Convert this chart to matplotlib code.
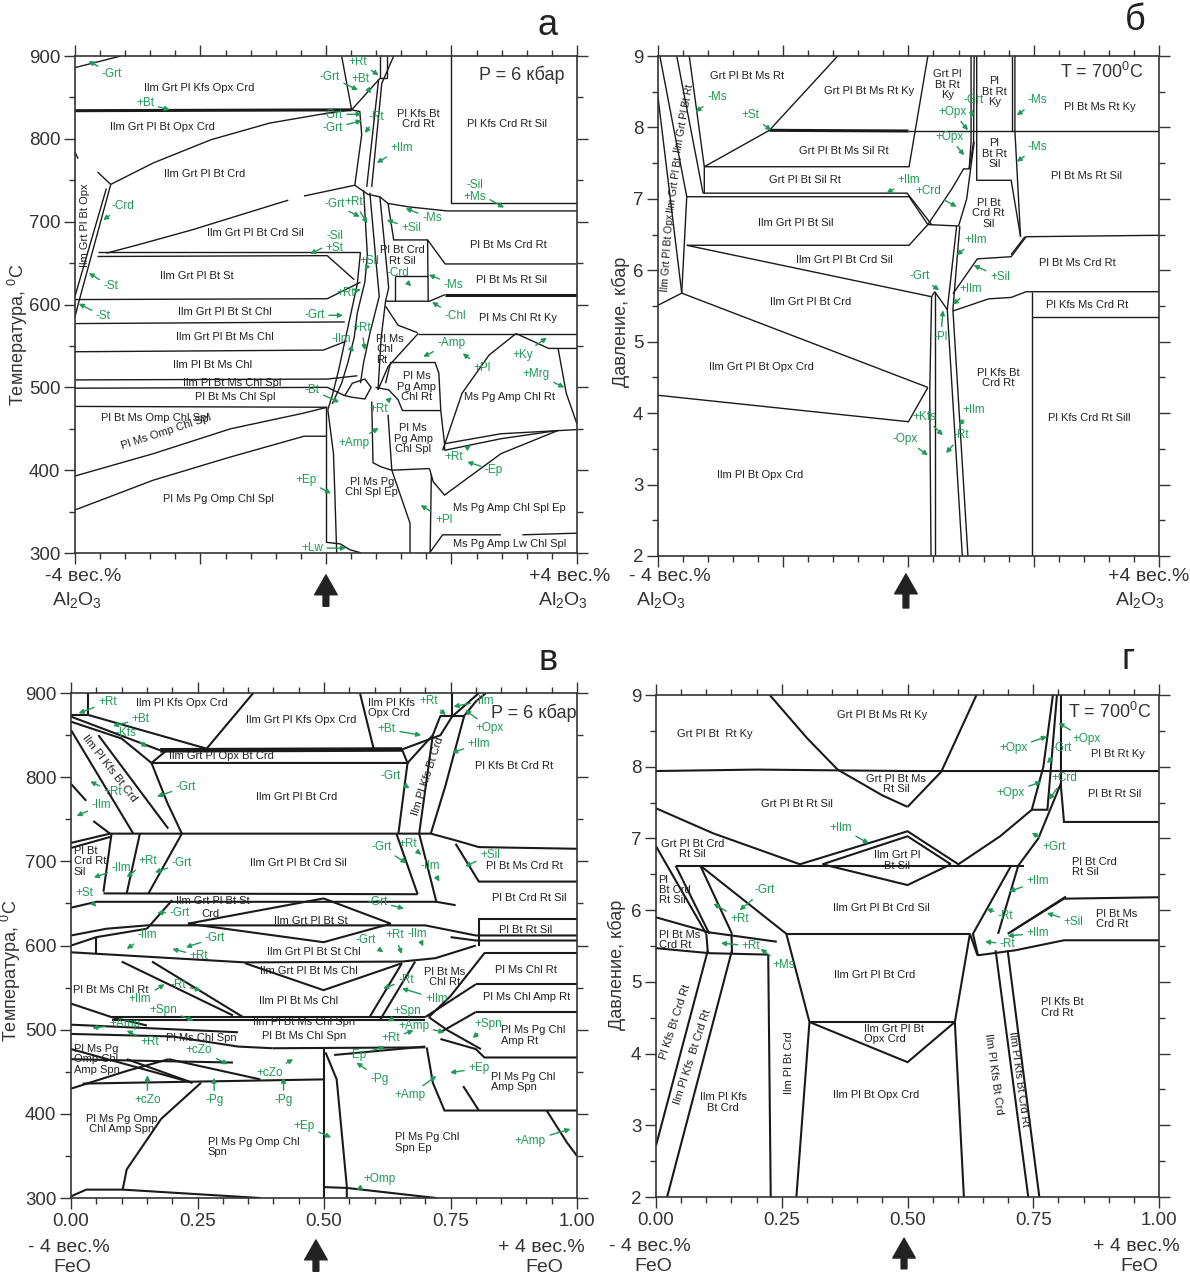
import matplotlib
matplotlib.use("Agg")
import matplotlib.pyplot as plt
from matplotlib.ticker import MultipleLocator, NullFormatter, FormatStrFormatter
import matplotlib.transforms as mtransforms

plt.rcParams['font.family'] = ['Liberation Sans', 'DejaVu Sans']
plt.rcParams['mathtext.fontset'] = 'custom'
plt.rcParams['mathtext.rm'] = 'Liberation Sans'
plt.rcParams['mathtext.it'] = 'Liberation Sans:italic'
plt.rcParams['mathtext.bf'] = 'Liberation Sans:bold'

GREEN = '#1f9a58'
INK = '#1a1a1a'

# ---------------------------------------------------------------- panel a (T-X Al2O3, P = 6 kbar)
A_LINES = [
    [(-4, 886), (-3.27, 900)],
    [(0.25, 900), (0.41, 835)],
    [(0.41, 835), (0.86, 873)],
    [(0.86, 900), (0.86, 873), (0.98, 873), (0.98, 900)],
    [(1.08, 900), (0.89, 867), (0.73, 742)],
    [(0.84, 872), (0.65, 742)],
    [(0.41, 835), (0.54, 833), (0.57, 805), (0.46, 744)],
    [(-3.43, 745), (-2.75, 771), (-1.83, 799), (-0.90, 819), (0.02, 831), (0.41, 835)],
    [(-3.64, 760), (-3.43, 745)],
    [(-4, 784), (-3.95, 776)],
    [(-3.43, 745), (-3.95, 600), (-4, 585)],
    [(-3.50, 740), (-4, 610)],
    [(-3.5, 662), (-3.0, 672), (-2.14, 690), (-1.2, 712), (-0.6, 726)],
    [(-0.35, 731), (0.46, 744)],
    [(0.46, 744), (0.67, 733), (0.86, 730), (0.99, 722), (1.31, 718), (1.93, 713), (4, 713)],
    [(-3.64, 663), (0.55, 663)],
    [(-3.64, 658), (0.02, 659), (0.45, 630)],
    [(-4, 606), (0.02, 607), (0.55, 627)],
    [(-4, 577), (0.30, 579)],
    [(-4, 543), (-0.04, 545), (0.33, 556)],
    [(-4, 509), (0.02, 510), (0.5, 514)],
    [(-4, 499), (0.02, 500), (0.3, 490)],
    [(-4, 477), (0.02, 476)],
    [(-4, 393), (-2.75, 420), (-1.52, 450), (-0.35, 469), (0.02, 476)],
    [(-4, 352), (-2.75, 388), (-1.52, 416), (-0.35, 441), (0.0, 441)],
    [(0.0, 476), (0.0, 313)],
    [(0.0, 313), (0.23, 311), (0.38, 304), (0.57, 300)],
    [(0.03, 473), (0.12, 420), (0.14, 376), (0.17, 304), (0.17, 300)],
    [(0.99, 467), (1.05, 400), (1.65, 402)],
    [(1.05, 400), (1.34, 336), (1.34, 300)],
    [(0.73, 483), (0.75, 409), (0.88, 404), (1.05, 400)],
    [(0.79, 500), (1.0, 497), (1.15, 485), (1.22, 472), (1.83, 472)],
    [(0.95, 505), (1.03, 530), (1.74, 530), (1.80, 517), (1.83, 472), (1.89, 432), (1.89, 424)],
    [(1.47, 565), (0.99, 525), (0.83, 497)],
    [(1.46, 565), (4, 565)],
    [(0.95, 598), (1.15, 575), (1.46, 566)],
    [(1.86, 424), (2.17, 493), (2.60, 539), (3.03, 565)],
    [(3.03, 565), (3.55, 547), (4, 547)],
    [(3.7, 547), (3.83, 493), (4, 456)],
    [(1.89, 432), (2.79, 444), (4, 449)],
    [(1.89, 424), (2.79, 438), (3.7, 448)],
    [(1.65, 402), (1.71, 386), (1.89, 370), (2.79, 420), (3.7, 448)],
    [(1.68, 395), (1.66, 300)],
    [(1.65, 300), (1.86, 322), (2.79, 322)],
    [(3.13, 322), (4, 324)],
    [(2.0, 900), (2.0, 722), (4, 722)],
    [(0.99, 722), (1.08, 678), (1.62, 678), (1.9, 649), (4, 649)],
    [(1.62, 678), (1.63, 604)],
    [(1.10, 635), (1.62, 635)],
    [(1.10, 635), (1.10, 604)],
    [(0.95, 604), (1.65, 604), (1.9, 612)],
    [(0.55, 663), (0.5, 625), (0.4, 590), (0.3, 555), (0.2, 520), (0.1, 490), (0.03, 473)],
    [(0.60, 738), (0.66, 660), (0.62, 627), (0.5, 590), (0.45, 560), (0.35, 530), (0.25, 505), (0.1, 480)],
    [(0.70, 735), (0.80, 650), (0.85, 610), (0.7, 565), (0.6, 530), (0.55, 505)],
    [(0.86, 730), (0.95, 660), (1.0, 620), (0.95, 604), (0.88, 560), (0.83, 497)],
    [(0.3, 490), (0.42, 505), (0.62, 510), (0.72, 500), (0.62, 486), (0.42, 488), (0.3, 490)],
]
A_THICK = [
    [(-4, 834), (0.41, 835)],
    [(1.9, 612), (4, 612)],
]
A_LABELS = [
    ("Ilm Grt Pl Kfs Opx Crd", -2.02, 861),
    ("Ilm Grt Pl Bt Opx Crd", -2.61, 814),
    ("Ilm Grt Pl Bt Crd", -1.93, 758),
    ("Ilm Grt Pl Bt Crd Sil", -1.13, 686),
    ("Ilm Grt Pl Bt St", -2.06, 634),
    ("Ilm Grt Pl Bt St Chl", -1.61, 591),
    ("Ilm Grt Pl Bt Ms Chl", -1.61, 561),
    ("Ilm Pl Bt Ms Chl", -1.80, 527),
    ("Ilm Pl Bt Ms Chl Spl", -1.50, 505),
    ("Pl Bt Ms Chl Spl", -1.45, 488),
    ("Pl Bt Ms Omp Chl Spl", -2.73, 463),
    ("Pl Ms Omp Chl Spl", -2.55, 447, 18),
    ("Pl Ms Pg Omp Chl Spl", -1.71, 365),
    ("Ilm Grt Pl Bt Opx", -3.84, 696, 90),
    ("Pl Kfs Bt\nCrd Rt", 1.47, 824),
    ("Pl Kfs Crd Rt Sil", 2.88, 818),
    ("Pl Bt Ms Crd Rt", 2.90, 672),
    ("Pl Bt Ms Rt Sil", 2.96, 630),
    ("Pl Ms Chl Rt Ky", 3.06, 584),
    ("Pl Bt Crd\nRt Sil", 1.22, 659),
    ("Pl Ms\nChl\nRt", 0.80, 546, 0, 'left'),
    ("Pl Ms\nPg Amp\nChl Rt", 1.45, 501),
    ("Pl Ms\nPg Amp\nChl Spl", 1.39, 438),
    ("Pl Ms Pg\nChl Spl Ep", 0.73, 380),
    ("Ms Pg Amp Chl Rt", 2.93, 488),
    ("Ms Pg Amp Chl Spl Ep", 2.93, 354),
    ("Ms Pg Amp Lw Chl Spl", 2.93, 311),
]
A_NOTES = [
    ("-Grt", -3.41, 878, -3.78, 894),
    ("+Bt", -2.88, 843, -2.49, 835),
    ("-Crd", -3.23, 719, -3.55, 702),
    ("-St", -3.43, 622, -3.78, 638),
    ("-St", -3.55, 586, -3.94, 601),
    ("-Sil\n+Ms", 2.37, 737, 2.84, 717),
    ("-Grt", 0.06, 875, 0.51, 859),
    ("+Rt", 0.51, 893, 0.84, 877),
    ("+Bt", 0.55, 872, 0.72, 855),
    ("-Grt", 0.11, 829, 0.57, 830),
    ("-Grt", 0.11, 813, 0.57, 822),
    ("-Rt", 0.81, 826, 0.62, 807),
    ("+Ilm", 1.21, 789, 0.81, 771),
    ("-Grt", 0.14, 721, 0.54, 706),
    ("+Rt", 0.45, 724, 0.66, 698),
    ("-Ms", 1.69, 704, 1.27, 716),
    ("+Sil", 1.36, 692, 0.97, 702),
    ("-Sil\n+St", 0.14, 676, -0.25, 661),
    ("+Sil", 0.70, 652, 0.62, 641),
    ("-Crd", 1.15, 638, 1.36, 622),
    ("-Ms", 2.03, 624, 1.64, 636),
    ("+Rt", 0.32, 614, 0.55, 618),
    ("-Chl", 2.06, 586, 1.69, 603),
    ("-Grt", -0.18, 587, 0.27, 587),
    ("+Rt", 0.57, 572, 0.62, 545),
    ("-Ilm", 0.24, 558, 0.45, 543),
    ("-Amp", 2.0, 554, 1.55, 537),
    ("+Pl", 2.49, 523, 2.18, 541),
    ("+Ky", 3.13, 539, 3.52, 560),
    ("+Mrg", 3.35, 516, 3.80, 500),
    ("-Bt", -0.22, 497, 0.21, 482),
    ("+Rt", 0.84, 474, 1.05, 488),
    ("+Amp", 0.45, 433, 0.84, 451),
    ("+Ep", -0.32, 388, 0.08, 372),
    ("+Rt", 2.04, 416, 2.31, 430),
    ("-Ep", 2.68, 400, 2.25, 410),
    ("+Pl", 1.88, 340, 1.51, 358),
    ("+Lw", -0.22, 306, 0.32, 306),
]

# ---------------------------------------------------------------- panel б (P-X Al2O3, T = 700 C)
B_LINES = [
    [(-4, 8.43), (-3.62, 5.68)],
    [(-3.97, 9), (-3.54, 7.03), (-3.62, 5.68)],
    [(-3.70, 9), (-3.28, 7.08)],
    [(-3.50, 9), (-3.26, 7.45), (-3.26, 7.08)],
    [(-4, 5.51), (-3.62, 5.68)],
    [(-3.62, 5.68), (0.31, 4.36)],
    [(-4, 4.25), (0.0, 3.88), (0.31, 4.36)],
    [(-3.26, 7.45), (0.01, 7.45), (0.31, 9)],
    [(-3.26, 7.45), (-2.22, 7.96), (-1.13, 9)],
    [(0.0, 7.95), (4, 7.95)],
    [(-3.54, 7.03), (0.01, 7.03), (0.31, 6.64)],
    [(-3.28, 7.08), (-0.02, 7.08), (0.37, 6.64)],
    [(-3.54, 6.35), (0.01, 6.35), (0.31, 6.64)],
    [(-3.54, 6.35), (0.37, 5.63)],
    [(0.31, 6.64), (0.80, 6.62)],
    [(0.37, 5.63), (0.34, 4.3), (0.36, 2)],
    [(0.42, 5.7), (0.42, 2)],
    [(0.77, 6.62), (0.62, 5.45), (0.86, 2)],
    [(0.82, 6.62), (0.71, 5.45), (0.95, 2)],
    [(0.37, 5.63), (0.42, 5.7), (0.62, 5.45)],
    [(0.31, 6.64), (0.7, 7.15), (0.88, 7.42), (0.97, 7.42), (1.0, 7.8), (1.0, 9)],
    [(0.97, 7.42), (1.04, 7.8), (1.05, 9)],
    [(0.80, 6.62), (0.93, 7.0), (1.05, 7.8)],
    [(1.09, 9), (1.09, 7.26), (1.64, 7.26), (1.79, 6.47)],
    [(1.65, 9), (1.65, 7.95)],
    [(1.70, 9), (1.70, 7.95), (1.79, 6.47)],
    [(0.71, 5.67), (1.10, 6.16), (1.64, 6.19), (1.88, 6.47), (4, 6.49)],
    [(1.64, 6.22), (1.86, 6.47)],
    [(0.71, 5.43), (1.28, 5.6), (1.64, 5.62), (1.88, 5.7), (4, 5.7)],
    [(1.97, 5.7), (1.97, 2)],
    [(1.97, 5.34), (4, 5.34)],
]
B_THICK = [
    [(-2.22, 7.96), (0.0, 7.95)],
]
B_LABELS = [
    ("Grt Pl Bt Ms Rt", -2.58, 8.72),
    ("Grt Pl Bt Ms Rt Ky", -0.62, 8.51),
    ("Grt Pl Bt Ms Sil Rt", -1.03, 7.67),
    ("Grt Pl Bt Sil Rt", -1.65, 7.27),
    ("Ilm Grt Pl Bt Sil", -1.80, 6.66),
    ("Ilm Grt Pl Bt Crd Sil", -1.03, 6.15),
    ("Ilm Grt Pl Bt Crd", -1.57, 5.56),
    ("Ilm Grt Pl Bt Opx Crd", -2.34, 4.64),
    ("Ilm Pl Bt Opx Crd", -2.37, 3.13),
    ("Grt Pl\nBt Rt\nKy", 0.62, 8.60),
    ("Pl\nBt Rt\nKy", 1.37, 8.5),
    ("Pl\nBt Rt\nSil", 1.37, 7.63),
    ("Pl Bt\nCrd Rt\nSil", 1.28, 6.8),
    ("Pl Bt Ms Rt Ky", 3.06, 8.29),
    ("Pl Bt Ms Rt Sil", 2.85, 7.32),
    ("Pl Bt Ms Crd Rt", 2.70, 6.1),
    ("Pl Kfs Ms Crd Rt", 2.85, 5.51),
    ("Pl Kfs Bt\nCrd Rt", 1.43, 4.49),
    ("Pl Kfs Crd Rt Sill", 2.88, 3.93),
]
B_STRIP_LABELS = [
    ("Ilm Grt Pl Bt Opx", -3.85, 6.25, 86),
    ("Ilm Grt Pl Bt", -3.73, 7.2, 82),
    ("Ilm Grt Pl Bt Rt", -3.58, 8.12, 80),
]
B_NOTES = [
    ("-Ms", -3.06, 8.42, -3.40, 8.22),
    ("+St", -2.52, 8.17, -2.19, 7.96),
    ("-Ms", 2.06, 8.38, 1.73, 8.17),
    ("-Ms", 2.06, 7.73, 1.73, 7.52),
    ("-Grt", 1.04, 8.38, 1.0, 8.13),
    ("+Opx", 0.71, 8.22, 0.95, 7.96),
    ("+Opx", 0.65, 7.87, 0.89, 7.61),
    ("+Ilm", 0.01, 7.26, -0.35, 7.08),
    ("+Crd", 0.31, 7.11, 0.77, 6.89),
    ("+Ilm", 1.07, 6.43, 0.77, 6.21),
    ("+Sil", 1.46, 5.91, 1.04, 6.07),
    ("-Grt", 0.18, 5.92, 0.49, 5.72),
    ("+Ilm", 1.0, 5.74, 0.71, 5.52),
    ("-Pl", 0.52, 5.07, 0.55, 5.44),
    ("+Kfs", 0.25, 3.95, 0.55, 3.69),
    ("-Opx", -0.05, 3.64, 0.31, 3.41),
    ("+Ilm", 1.04, 4.04, 0.80, 3.83),
    ("-Rt", 0.85, 3.69, 0.60, 3.44),
]

# ---------------------------------------------------------------- panel в (T-X FeO, P = 6 kbar)
C_LINES = [
    [(0.034, 900), (0.034, 874), (0.0, 874)],
    [(0.034, 874), (0.268, 834)],
    [(0.0, 872), (0.176, 832)],
    [(0.0, 866), (0.10, 846), (0.159, 817)],
    [(0.268, 834), (0.360, 900)],
    [(0.159, 817), (0.189, 832)],
    [(0.159, 817), (0.665, 817), (0.654, 833)],
    [(0.571, 900), (0.598, 834)],
    [(0.654, 833), (0.73, 850), (0.753, 872), (0.806, 900)],
    [(0.665, 817), (0.715, 850), (0.73, 873)],
    [(0.73, 873), (0.777, 873)],
    [(0.753, 900), (0.753, 873)],
    [(0.777, 873), (0.80, 890), (0.82, 900)],
    [(0.665, 817), (0.647, 733)],
    [(0.715, 850), (0.688, 733)],
    [(0.777, 873), (0.74, 790), (0.711, 733)],
    [(0.0, 856), (0.123, 733)],
    [(0.054, 850), (0.192, 739)],
    [(0.159, 817), (0.19, 770), (0.219, 733)],
    [(0.0, 792), (0.03, 772)],
    [(0.044, 748), (0.077, 733)],
    [(0.0, 722), (0.077, 733), (0.643, 733), (0.711, 733), (0.76, 725), (0.806, 717), (1.0, 715)],
    [(0.0, 716), (0.077, 729)],
    [(0.76, 721), (0.806, 676), (1.0, 676)],
    [(0.080, 733), (0.064, 664)],
    [(0.136, 733), (0.11, 662)],
    [(0.219, 733), (0.153, 662)],
    [(0.643, 733), (0.685, 661)],
    [(0.688, 733), (0.722, 652)],
    [(0.064, 662), (0.685, 661)],
    [(0.0, 645), (0.05, 652), (0.722, 652), (0.76, 648)],
    [(0.806, 600), (0.806, 631), (1.0, 631)],
    [(0.231, 626), (0.499, 656), (0.632, 626), (0.499, 604), (0.231, 626)],
    [(0.0, 612), (0.07, 620), (0.15, 624), (0.70, 624), (0.75, 618), (0.8, 612), (1.0, 612)],
    [(0.75, 610), (0.8, 606), (1.0, 606)],
    [(0.2, 654), (0.15, 620)],
    [(0.0, 600), (0.05, 610), (0.15, 620)],
    [(0.05, 610), (0.05, 590)],
    [(0.0, 592), (0.344, 580), (0.654, 581), (0.72, 585), (0.8, 600)],
    [(0.344, 579), (0.499, 547), (0.654, 579)],
    [(0.10, 581), (0.32, 517)],
    [(0.16, 581), (0.34, 515)],
    [(0.0, 531), (0.08, 515), (0.15, 505)],
    [(0.08, 515), (0.70, 515)],
    [(0.08, 511), (0.70, 511)],
    [(0.398, 478), (0.70, 479)],
    [(0.0, 506), (0.33, 497)],
    [(0.0, 495), (0.2, 492), (0.33, 480), (0.398, 478)],
    [(0.0, 430), (0.11, 451), (0.193, 465)],
    [(0.023, 436), (0.5, 441)],
    [(0.0, 465), (0.15, 463), (0.32, 461)],
    [(0.11, 465), (0.24, 437)],
    [(0.193, 465), (0.374, 441)],
    [(0.257, 437), (0.178, 394), (0.11, 334), (0.102, 310)],
    [(0.0, 302), (0.03, 310), (0.102, 310), (0.375, 300)],
    [(0.499, 478), (0.499, 300)],
    [(0.503, 473), (0.525, 441), (0.545, 314), (0.545, 300)],
    [(0.5, 313), (0.545, 312), (0.722, 300)],
    [(0.52, 470), (0.70, 480)],
    [(0.703, 479), (0.715, 437), (0.738, 404), (1.0, 404)],
    [(0.775, 433), (0.806, 404)],
    [(0.73, 489), (0.80, 477), (0.817, 467), (1.0, 467)],
    [(0.80, 521), (1.0, 521)],
    [(0.80, 521), (0.73, 497)],
    [(0.80, 554), (1.0, 554)],
    [(0.80, 554), (0.70, 515)],
    [(0.817, 591), (1.0, 591)],
    [(0.817, 591), (0.75, 540), (0.707, 515)],
    [(0.94, 404), (0.98, 366), (1.0, 350)],
    [(0.654, 579), (0.59, 515)],
    [(0.68, 581), (0.61, 511)],
    [(0.707, 515), (0.745, 499), (0.81, 477)],
    [(0.0, 477), (0.24, 437)],
]
C_THICK = [
    [(0.176, 832), (0.654, 833)],
]
C_LABELS = [
    ("Ilm Pl Kfs Opx Crd", 0.22, 888),
    ("Ilm Grt Pl Kfs Opx Crd", 0.454, 868),
    ("Ilm Pl Kfs\nOpx Crd", 0.586, 882, 0, 'left'),
    ("Ilm Grt Pl Opx Bt Crd", 0.297, 825),
    ("Ilm Grt Pl Bt Crd", 0.446, 776),
    ("Ilm Grt Pl Bt Crd Sil", 0.449, 698),
    ("Ilm Grt Pl Bt St", 0.28, 653),
    ("Crd", 0.276, 637),
    ("Ilm Grt Pl Bt St", 0.474, 629),
    ("Ilm Grt Pl Bt St Chl", 0.479, 592),
    ("Pl Kfs Bt Crd Rt", 0.876, 813),
    ("Pl Bt Ms Crd Rt", 0.896, 694),
    ("Pl Bt Crd Rt Sil", 0.905, 656),
    ("Pl Bt Rt Sil", 0.898, 618),
    ("Pl Bt\nCrd Rt\nSil", 0.005, 700, 0, 'left'),
    ("Ilm Pl Kfs Bt Crd", 0.076, 811, -52),
    ("Ilm Pl Kfs Bt Crd", 0.706, 801, 72),
    ("Ilm Grt Pl Bt Ms Chl", 0.471, 570),
    ("Ilm Pl Bt Ms Chl", 0.449, 534),
    ("Ilm Pl Bt Ms Chl Spn", 0.461, 509),
    ("Pl Bt Ms Chl Spn", 0.461, 493),
    ("Pl Ms Chl Spn", 0.257, 490),
    ("Pl Bt Ms Chl Rt", 0.079, 547),
    ("Pl Ms Pg\nOmp Chl\nAmp Spn", 0.005, 465, 0, 'left'),
    ("Pl Ms Pg Omp\nChl Amp Spn", 0.10, 388),
    ("Pl Ms Pg Omp Chl\nSpn", 0.27, 361, 0, 'left'),
    ("Pl Bt Ms\nChl Rt", 0.738, 563),
    ("Pl Ms Chl Rt", 0.90, 571),
    ("Pl Ms Chl Amp Rt", 0.90, 539),
    ("Pl Ms Pg Chl\nAmp Rt", 0.85, 493, 0, 'left'),
    ("Pl Ms Pg Chl\nAmp Spn", 0.83, 438, 0, 'left'),
    ("Pl Ms Pg Chl\nSpn Ep", 0.64, 366, 0, 'left'),
]
C_NOTES = [
    ("+Rt", 0.072, 889, 0.015, 876),
    ("+Bt", 0.138, 869, 0.083, 861),
    ("-Kfs", 0.108, 852, 0.151, 836),
    ("-Grt", 0.227, 789, 0.17, 777),
    ("+Rt", 0.083, 782, 0.038, 795),
    ("-Ilm", 0.06, 767, 0.011, 754),
    ("-Ilm", 0.10, 692, 0.045, 681),
    ("+Rt", 0.151, 701, 0.11, 681),
    ("-Grt", 0.219, 698, 0.166, 687),
    ("+St", 0.026, 662, 0.05, 646),
    ("-Grt", 0.215, 639, 0.17, 639),
    ("-Ilm", 0.151, 613, 0.11, 596),
    ("-Grt", 0.284, 609, 0.227, 598),
    ("+Rt", 0.253, 588, 0.2, 596),
    ("+Rt", 0.707, 891, 0.741, 874),
    ("-Ilm", 0.817, 891, 0.756, 884),
    ("+Opx", 0.828, 858, 0.779, 880),
    ("+Bt", 0.624, 857, 0.692, 850),
    ("+Ilm", 0.806, 840, 0.753, 829),
    ("-Grt", 0.632, 801, 0.669, 787),
    ("-Grt", 0.613, 717, 0.663, 698),
    ("+Rt", 0.666, 721, 0.692, 708),
    ("-Ilm", 0.711, 694, 0.728, 676),
    ("+Sil", 0.828, 708, 0.779, 694),
    ("-Grt", 0.605, 652, 0.658, 644),
    ("-Grt", 0.583, 607, 0.617, 592),
    ("+Rt", 0.639, 612, 0.654, 590),
    ("-Ilm", 0.685, 614, 0.696, 599),
    ("-Rt", 0.212, 553, 0.257, 547),
    ("+Ilm", 0.136, 536, 0.185, 554),
    ("+Spn", 0.182, 524, 0.242, 511),
    ("+Amp", 0.106, 507, 0.042, 502),
    ("+Rt", 0.155, 485, 0.11, 499),
    ("+cZo", 0.253, 476, 0.31, 459),
    ("+cZo", 0.393, 449, 0.439, 465),
    ("+cZo", 0.151, 416, 0.151, 446),
    ("-Pg", 0.284, 416, 0.282, 443),
    ("-Pg", 0.42, 416, 0.42, 443),
    ("+Ep", 0.461, 386, 0.514, 372),
    ("+Omp", 0.609, 323, 0.564, 310),
    ("-Rt", 0.662, 559, 0.617, 549),
    ("+Ilm", 0.722, 537, 0.654, 549),
    ("+Spn", 0.664, 522, 0.626, 510),
    ("+Amp", 0.677, 505, 0.738, 497),
    ("+Rt", 0.632, 490, 0.677, 499),
    ("-Ep", 0.567, 470, 0.62, 480),
    ("-Pg", 0.609, 442, 0.564, 461),
    ("+Amp", 0.669, 422, 0.722, 445),
    ("+Ep", 0.806, 454, 0.749, 449),
    ("+Spn", 0.824, 507, 0.794, 490),
    ("+Amp", 0.908, 368, 0.987, 382),
]

# ---------------------------------------------------------------- panel г (P-X FeO, T = 700 C)
D_LINES = [
    [(0.226, 9), (0.30, 8.4), (0.361, 7.96)],
    [(0.361, 7.96), (0.45, 7.6), (0.5, 7.44)],
    [(0.5, 7.44), (0.567, 7.93), (0.637, 9)],
    [(0.0, 7.94), (0.2, 7.96), (0.5, 7.94), (1.0, 7.94)],
    [(0.0, 7.42), (0.114, 7.07), (0.286, 6.64), (0.5, 7.1), (0.601, 6.64), (0.684, 7.03),
     (0.747, 7.4), (0.77, 8.0), (0.789, 9)],
    [(0.331, 6.64), (0.5, 7.03), (0.586, 6.64)],
    [(0.331, 6.64), (0.5, 6.35), (0.586, 6.64)],
    [(0.039, 6.62), (0.732, 6.62)],
    [(0.747, 7.4), (0.778, 7.4), (0.797, 9)],
    [(0.805, 9), (0.805, 7.72), (0.811, 7.23), (1.0, 7.23)],
    [(0.805, 7.77), (0.76, 7.0), (0.72, 6.62), (0.68, 5.67)],
    [(0.0, 6.89), (0.1, 5.67)],
    [(0.039, 6.62), (0.106, 5.67)],
    [(0.088, 6.62), (0.151, 5.67)],
    [(0.088, 6.62), (0.259, 5.67)],
    [(0.259, 5.67), (0.624, 5.67)],
    [(0.0, 5.9), (0.106, 5.69), (0.24, 5.56)],
    [(0.0, 5.47), (0.106, 5.40), (0.223, 5.38)],
    [(0.1, 5.67), (0.103, 5.4)],
    [(0.15, 5.67), (0.151, 5.4)],
    [(0.259, 5.67), (0.305, 4.44), (0.279, 2)],
    [(0.624, 5.67), (0.594, 4.44), (0.612, 2)],
    [(0.305, 4.44), (0.594, 4.44)],
    [(0.305, 4.44), (0.5, 3.88), (0.594, 4.44)],
    [(0.223, 5.38), (0.228, 2)],
    [(0.0, 2.72), (0.103, 5.44)],
    [(0.022, 2), (0.151, 5.44)],
    [(0.675, 5.44), (0.74, 2)],
    [(0.699, 5.44), (0.762, 2)],
    [(0.639, 5.37), (0.714, 5.44), (0.811, 5.58), (1.0, 5.58)],
    [(0.699, 5.67), (0.811, 6.16), (1.0, 6.18)],
    [(0.706, 5.7), (0.815, 6.19)],
    [(0.706, 6.62), (0.63, 5.67), (0.64, 5.37)],
    [(0.624, 5.67), (0.639, 5.37)],
]
D_THICK = []
D_LABELS = [
    ("Grt Pl Bt  Rt Ky", 0.116, 8.45),
    ("Grt Pl Bt Ms Rt Ky", 0.45, 8.72),
    ("Grt Pl Bt Ms\nRt Sil", 0.477, 7.76),
    ("Grt Pl Bt Rt Sil", 0.28, 7.48),
    ("Ilm Grt Pl\nBt Sil", 0.48, 6.69),
    ("Grt Pl Bt Crd\nRt Sil", 0.073, 6.85),
    ("Pl\nBt Crd\nRt Sil", 0.005, 6.28, 0, 'left'),
    ("Ilm Grt Pl Bt Crd Sil", 0.447, 6.03),
    ("Pl Bt Ms\nCrd Rt", 0.005, 5.58, 0, 'left'),
    ("Pl Bt Rt Ky", 0.918, 8.18),
    ("Pl Bt Rt Sil", 0.912, 7.62),
    ("Pl Bt Crd\nRt Sil", 0.826, 6.6, 0, 'left'),
    ("Pl Bt Ms\nCrd Rt", 0.875, 5.88, 0, 'left'),
    ("Ilm Grt Pl Bt Crd", 0.435, 5.1),
    ("Ilm Grt Pl Bt\nOpx Crd", 0.414, 4.27, 0, 'left'),
    ("Ilm Pl Bt Opx Crd", 0.438, 3.42),
    ("Pl Kfs Bt\nCrd Rt", 0.765, 4.64, 0, 'left'),
    ("Ilm Pl Kfs\nBt Crd", 0.133, 3.32),
    ("Pl Kfs Bt Crd Rt", 0.039, 4.44, 72),
    ("Ilm Pl Kfs  Bt Crd Rt", 0.073, 3.96, 72),
    ("Ilm Pl Bt Crd", 0.264, 3.88, 90),
    ("Ilm Pl Kfs Bt Crd", 0.672, 3.72, -82),
    ("Ilm Pl Kfs Bt Crd Rt", 0.721, 3.65, -82),
]
D_NOTES = [
    ("+Ilm", 0.367, 7.15, 0.423, 6.93),
    ("+Opx", 0.71, 8.26, 0.777, 8.42),
    ("-Grt", 0.807, 8.26, 0.777, 8.05),
    ("+Opx", 0.856, 8.38, 0.80, 8.61),
    ("+Crd", 0.812, 7.84, 0.781, 7.54),
    ("+Opx", 0.705, 7.64, 0.766, 7.79),
    ("+Grt", 0.792, 6.88, 0.747, 7.08),
    ("+Ilm", 0.759, 6.4, 0.702, 6.26),
    ("-Grt", 0.215, 6.28, 0.166, 6.0),
    ("+Rt", 0.166, 5.88, 0.114, 6.09),
    ("+Sil", 0.83, 5.84, 0.777, 5.96),
    ("-Rt", 0.695, 5.92, 0.657, 6.02),
    ("+Ilm", 0.759, 5.68, 0.699, 5.64),
    ("-Rt", 0.699, 5.53, 0.654, 5.56),
    ("+Rt", 0.189, 5.5, 0.129, 5.54),
    ("+Ms", 0.253, 5.23, 0.208, 5.46),
]

TEMP_LABEL = 'Температура, $^\\mathregular{0}$C'
PRES_LABEL = 'Давление, кбар'
AL = 'Al$_\\mathregular{2}$O$_\\mathregular{3}$'


def draw(ax, lines, thick, labels, notes, lw, fs=8):
    for pl in lines:
        xs, ys = zip(*pl)
        ax.plot(xs, ys, color=INK, lw=lw, solid_joinstyle='miter', solid_capstyle='butt')
    for pl in thick:
        xs, ys = zip(*pl)
        ax.plot(xs, ys, color=INK, lw=lw * 2.2, solid_capstyle='butt')
    for lab in labels:
        text, x, y = lab[:3]
        rot = lab[3] if len(lab) > 3 else 0
        ha = lab[4] if len(lab) > 4 else 'center'
        ax.text(x, y, text, fontsize=fs, ha=ha, va='center', rotation=rot,
                rotation_mode='anchor', linespacing=1.05, color='#202020',
                multialignment=ha)
    for t, tx, ty, hx, hy in notes:
        ax.annotate(t, xy=(hx, hy), xytext=(tx, ty), fontsize=fs + 0.5, color=GREEN,
                    ha='center', va='center', linespacing=1.0,
                    arrowprops=dict(arrowstyle='-|>', color=GREEN, lw=1.0,
                                    mutation_scale=7, shrinkA=1, shrinkB=0))


def setup(ax, xlim, ylim, xmaj, xmin, ymaj, ymin, xlabels):
    ax.set_xlim(*xlim)
    ax.set_ylim(*ylim)
    ax.xaxis.set_major_locator(MultipleLocator(xmaj))
    ax.xaxis.set_minor_locator(MultipleLocator(xmin))
    ax.yaxis.set_major_locator(MultipleLocator(ymaj))
    ax.yaxis.set_minor_locator(MultipleLocator(ymin))
    ax.tick_params(which='both', direction='out', top=True, right=True,
                   width=1.0, color='#333333', labelsize=13.5, labelcolor='#333333')
    ax.tick_params(which='major', length=8, pad=2.5)
    ax.tick_params(which='minor', length=4.5)
    if xlabels:
        ax.xaxis.set_major_formatter(FormatStrFormatter('%.2f'))
    else:
        ax.xaxis.set_major_formatter(NullFormatter())
    for s in ax.spines.values():
        s.set_linewidth(1.2)
        s.set_color('#333333')


def bottom_notes(ax, xarrow, tip, tail, left_txt, right_txt, comp, l1, l2, r1, r2, y1, y2):
    tr = mtransforms.blended_transform_factory(ax.transData, ax.transAxes)
    ax.annotate('', xy=(xarrow, tip), xytext=(xarrow, tail), xycoords=tr, textcoords=tr,
                annotation_clip=False,
                arrowprops=dict(arrowstyle='simple,head_length=1.1,head_width=1.25,tail_width=0.32',
                                color='#222222', mutation_scale=13, shrinkA=0, shrinkB=0))
    kw = dict(transform=ax.transAxes, fontsize=14, color='#333333', ha='center', va='center')
    ax.text(l1, y1, left_txt, **kw)
    ax.text(l2, y2, comp, **kw)
    ax.text(r1, y1, right_txt, **kw)
    ax.text(r2, y2, comp, **kw)


fig = plt.figure(figsize=(11.9, 12.79), dpi=100)
axA = fig.add_axes([0.0630, 0.5676, 0.4218, 0.3886])
axB = fig.add_axes([0.5529, 0.5653, 0.4210, 0.3909])
axC = fig.add_axes([0.0597, 0.0633, 0.4252, 0.3948])
axD = fig.add_axes([0.5513, 0.0641, 0.4227, 0.3925])

setup(axA, (-4, 4), (300, 900), 2, 0.4, 100, 50, False)
setup(axB, (-4, 4), (2, 9), 2, 0.4, 1, 0.5, False)
setup(axC, (0, 1), (300, 900), 0.25, 0.05, 100, 50, True)
setup(axD, (0, 1), (2, 9), 0.25, 0.05, 1, 0.5, True)

draw(axA, A_LINES, A_THICK, A_LABELS, A_NOTES, 1.0)
draw(axB, B_LINES, B_THICK, B_LABELS, B_NOTES, 1.0)
draw(axB, [], [], B_STRIP_LABELS, [], 1.0, fs=7.5)
draw(axC, C_LINES, C_THICK, C_LABELS, C_NOTES, 1.5)
draw(axD, D_LINES, D_THICK, D_LABELS, D_NOTES, 1.5)

axA.text(3.81, 877, 'P = 6 кбар', fontsize=13, ha='right', va='center', color='#333333')
axB.text(3.75, 8.78, 'T = 700$^\\mathregular{0}$C', fontsize=13, ha='right', va='center', color='#333333')
axC.text(0.998, 876, 'P = 6 кбар', fontsize=13, ha='right', va='center', color='#333333')
axD.text(0.985, 8.77, 'T = 700$^\\mathregular{0}$C', fontsize=13, ha='right', va='center', color='#333333')

for ax, letter, lx, ly in [(axA, 'а', 0.942, 1.062), (axB, 'б', 0.952, 1.072),
                           (axC, 'в', 0.943, 1.065), (axD, 'г', 0.938, 1.07)]:
    ax.text(lx, ly, letter, transform=ax.transAxes, fontsize=26, ha='center', va='center',
            color='#222222')

axA.text(-0.114, 0.44, TEMP_LABEL, transform=axA.transAxes, rotation=90, fontsize=13,
         ha='center', va='center', color='#333333')
axC.text(-0.118, 0.45, TEMP_LABEL, transform=axC.transAxes, rotation=90, fontsize=13,
         ha='center', va='center', color='#333333')
axB.text(-0.074, 0.468, PRES_LABEL, transform=axB.transAxes, rotation=90, fontsize=13,
         ha='center', va='center', color='#333333')
axD.text(-0.078, 0.462, PRES_LABEL, transform=axD.transAxes, rotation=90, fontsize=13,
         ha='center', va='center', color='#333333')

bottom_notes(axA, 0.0, -0.044, -0.107, '-4 вес.%', '+4 вес.%', AL,
             0.016, 0.004, 0.985, 0.972, -0.048, -0.095)
bottom_notes(axB, -0.04, -0.036, -0.104, '- 4 вес.%', '+4 вес.%', AL,
             0.024, 0.006, 0.979, 0.962, -0.042, -0.088)
bottom_notes(axC, 0.484, -0.083, -0.145, '- 4 вес.%', '+ 4 вес.%', 'FeO',
             -0.004, 0.002, 0.929, 0.935, -0.097, -0.137)
bottom_notes(axD, 0.493, -0.082, -0.143, '- 4 вес.%', '+ 4 вес.%', 'FeO',
             -0.012, -0.006, 0.954, 0.960, -0.098, -0.139)

fig.savefig('out.png', dpi=100)
